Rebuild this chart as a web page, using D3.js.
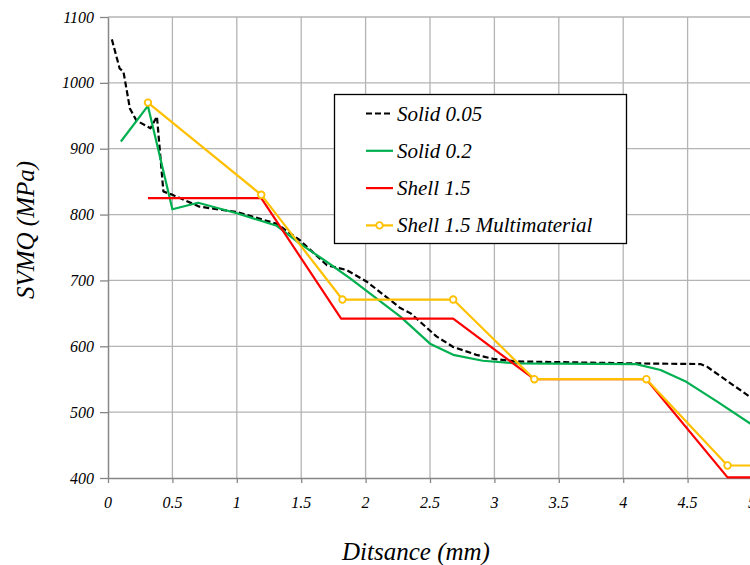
<!DOCTYPE html>
<html>
<head>
<meta charset="utf-8">
<script src="https://cdn.jsdelivr.net/npm/d3@7"></script>
<style>
  html, body { margin: 0; padding: 0; background: #fff; }
  svg { display: block; }
  .lbl { font-family: "Liberation Serif", "Times New Roman", serif; font-style: italic; fill: #000; }
</style>
</head>
<body>
<svg id="chart" width="750" height="565"></svg>
<script>
// ---- data ----
const xTicks = [0, 0.5, 1, 1.5, 2, 2.5, 3, 3.5, 4, 4.5, 5];
const yTicks = [400, 500, 600, 700, 800, 900, 1000, 1100];
const xTickLabels = ["0", "0.5", "1", "1.5", "2", "2.5", "3", "3.5", "4", "4.5", "5"];
const yTickLabels = ["400", "500", "600", "700", "800", "900", "1000", "1100"];

const seriesNames = ["Solid 0.05", "Solid 0.2", "Shell 1.5", "Shell 1.5 Multimaterial"];

const solid005X = [0.03, 0.09, 0.12, 0.17, 0.22, 0.33, 0.38, 0.43, 0.50, 0.71, 1.00, 1.31, 1.49, 1.70, 1.85, 2.01, 2.27, 2.35, 2.55, 2.68, 2.86, 2.99, 3.17, 4.10, 4.60, 4.65, 5.00];
const solid005Y = [1066, 1022, 1017, 961, 943, 931, 949, 835, 830, 812, 804, 786, 761, 723, 716, 698, 658, 650, 615, 599, 587, 581, 577, 574, 573, 569, 521];

const solid02X = [0.10, 0.31, 0.50, 0.70, 1.00, 1.31, 1.49, 1.70, 1.88, 2.27, 2.50, 2.68, 2.91, 3.17, 4.10, 4.29, 4.49, 4.73, 5.00];
const solid02Y = [911, 965, 808, 818, 802, 783, 756, 728, 703, 645, 604, 587, 578, 574, 573, 564, 546, 516, 481];

const shellX = [0.31, 1.19, 1.81, 2.68, 3.31, 4.18, 4.81, 5.68];
const shellY = [825, 825, 642, 642, 550, 550, 401, 401];

const multiX = [0.31, 1.19, 1.82, 2.68, 3.31, 4.18, 4.81, 5.68];
const multiY = [970, 830, 671, 671, 550, 550, 419, 419];

// ---- layout ----
const svg = d3.select("#chart");
const pLeft = 108, pRight = 752, pTop = 17, pBottom = 478;
const x = d3.scaleLinear().domain([0, 5]).range([pLeft, pRight]);
const y = d3.scaleLinear().domain([400, 1100]).range([pBottom, pTop]);

const gridColor = "#b4b4b4";
const axisColor = "#878787";

// gridlines
svg.append("g").selectAll("line").data(yTicks.filter(v => v > 400)).join("line")
  .attr("x1", pLeft).attr("x2", pRight)
  .attr("y1", d => y(d)).attr("y2", d => y(d))
  .attr("stroke", gridColor).attr("stroke-width", 1.3);
svg.append("g").selectAll("line").data(xTicks.filter(v => v > 0)).join("line")
  .attr("x1", d => x(d)).attr("x2", d => x(d))
  .attr("y1", pTop).attr("y2", pBottom)
  .attr("stroke", gridColor).attr("stroke-width", 1.3);

// axes (lines + ticks)
const xAxis = d3.axisBottom(x).tickValues(xTicks).tickFormat(() => "").tickSize(5).tickSizeOuter(0);
const yAxis = d3.axisLeft(y).tickValues(yTicks).tickFormat(() => "").tickSize(8).tickSizeOuter(0);
const gx = svg.append("g").attr("transform", `translate(0,${pBottom})`).call(xAxis);
const gy = svg.append("g").attr("transform", `translate(${pLeft},0)`).call(yAxis);
[gx, gy].forEach(g => {
  g.select(".domain").attr("stroke", axisColor).attr("stroke-width", 1.5);
  g.selectAll(".tick line").attr("stroke", axisColor).attr("stroke-width", 1.3);
  g.selectAll(".tick text").remove();
});

// tick labels
svg.append("g").selectAll("text").data(xTicks).join("text")
  .attr("class", "lbl")
  .attr("x", d => x(d)).attr("y", pBottom + 30)
  .attr("text-anchor", "middle").style("font-size", "16px")
  .text((d, i) => xTickLabels[i]);
svg.append("g").selectAll("text").data(yTicks).join("text")
  .attr("class", "lbl")
  .attr("x", pLeft - 14).attr("y", d => y(d) + 5.5)
  .attr("text-anchor", "end").style("font-size", "16px")
  .text((d, i) => yTickLabels[i]);

// clip
svg.append("clipPath").attr("id", "plotclip").append("rect")
  .attr("x", pLeft).attr("y", pTop - 10).attr("width", pRight - pLeft).attr("height", pBottom - pTop + 12);

const line = d3.line().x(d => x(d[0])).y(d => y(d[1]));
const plot = svg.append("g").attr("clip-path", "url(#plotclip)");

const series = [
  { name: seriesNames[0], xs: solid005X, ys: solid005Y, color: "#000000", dash: "6,3", marker: false },
  { name: seriesNames[1], xs: solid02X, ys: solid02Y, color: "#00b050", dash: null, marker: false },
  { name: seriesNames[2], xs: shellX, ys: shellY, color: "#ff0000", dash: null, marker: false },
  { name: seriesNames[3], xs: multiX, ys: multiY, color: "#ffc000", dash: null, marker: true }
];

series.forEach(s => {
  const pts = s.xs.map((v, i) => [v, s.ys[i]]);
  plot.append("path").datum(pts)
    .attr("d", line).attr("fill", "none")
    .attr("stroke", s.color).attr("stroke-width", 2.2)
    .attr("stroke-dasharray", s.dash)
    .attr("stroke-linejoin", "round");
  if (s.marker) {
    plot.append("g").selectAll("circle").data(pts).join("circle")
      .attr("cx", d => x(d[0])).attr("cy", d => y(d[1])).attr("r", 3.3)
      .attr("fill", "#fff").attr("stroke", s.color).attr("stroke-width", 1.8);
  }
});

// legend
const lg = svg.append("g");
lg.append("rect").attr("x", 334.5).attr("y", 94.5).attr("width", 292).attr("height", 149)
  .attr("fill", "#fff").attr("stroke", "#000").attr("stroke-width", 1.3);
series.forEach((s, i) => {
  const cy = 113.5 + i * 37.3;
  lg.append("line").attr("x1", 366).attr("x2", 393).attr("y1", cy).attr("y2", cy)
    .attr("stroke", s.color).attr("stroke-width", 2.2).attr("stroke-dasharray", s.dash);
  if (s.marker) {
    lg.append("circle").attr("cx", 379.5).attr("cy", cy).attr("r", 3.3)
      .attr("fill", "#fff").attr("stroke", s.color).attr("stroke-width", 1.8);
  }
  lg.append("text").attr("class", "lbl").attr("x", 397).attr("y", cy + 7).style("font-size", "21px").text(s.name);
});

// axis titles
svg.append("text").attr("class", "lbl").attr("x", 416).attr("y", 560).attr("text-anchor", "middle")
  .style("font-size", "25px").text("Ditsance (mm)");
svg.append("text").attr("class", "lbl").attr("transform", "translate(34,230) rotate(-90)").attr("text-anchor", "middle")
  .style("font-size", "25px").text("SVMQ (MPa)");
</script>
</body>
</html>
